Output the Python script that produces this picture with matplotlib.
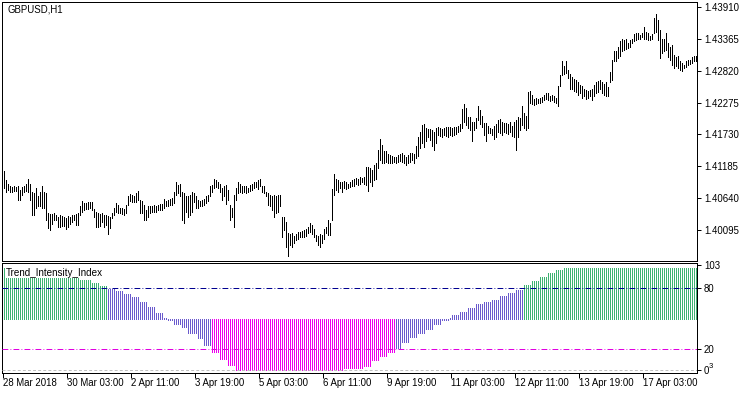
import numpy as np
import matplotlib
matplotlib.use("Agg")
import matplotlib.pyplot as plt

plt.rcParams['font.family'] = ['Liberation Sans', 'DejaVu Sans']
FS = 6.9

symbol = "GBPUSD,H1"
ind_name = "Trend_Intensity_Index"

# H1 bars, 28 Mar 2018 19:00 onwards
high = [
    1.4111, 1.4095, 1.4089, 1.4084, 1.4083, 1.4084, 1.4083, 1.4084, 1.4078, 1.4083,
    1.4085, 1.4089, 1.4096, 1.4089, 1.4075, 1.4072, 1.4081, 1.4067, 1.4075, 1.4085,
    1.4075, 1.4073, 1.4038, 1.4037, 1.4037, 1.4039, 1.4035, 1.4031, 1.4035, 1.4034,
    1.4031, 1.4030, 1.4034, 1.4031, 1.4035, 1.4035, 1.4037, 1.4038, 1.4051, 1.4060,
    1.4055, 1.4056, 1.4058, 1.4058, 1.4058, 1.4045, 1.4041, 1.4038, 1.4037, 1.4038,
    1.4035, 1.4035, 1.4034, 1.4031, 1.4039, 1.4047, 1.4055, 1.4052, 1.4047, 1.4047,
    1.4045, 1.4052, 1.4068, 1.4071, 1.4069, 1.4067, 1.4072, 1.4077, 1.4061, 1.4060,
    1.4052, 1.4044, 1.4050, 1.4051, 1.4051, 1.4052, 1.4051, 1.4052, 1.4054, 1.4054,
    1.4062, 1.4060, 1.4061, 1.4062, 1.4064, 1.4075, 1.4091, 1.4087, 1.4088, 1.4075,
    1.4072, 1.4067, 1.4067, 1.4069, 1.4075, 1.4072, 1.4067, 1.4061, 1.4060, 1.4061,
    1.4062, 1.4067, 1.4069, 1.4084, 1.4087, 1.4096, 1.4095, 1.4092, 1.4089, 1.4081,
    1.4084, 1.4087, 1.4078, 1.4052, 1.4048, 1.4069, 1.4081, 1.4091, 1.4088, 1.4085,
    1.4084, 1.4084, 1.4081, 1.4087, 1.4089, 1.4091, 1.4092, 1.4095, 1.4096, 1.4085,
    1.4084, 1.4075, 1.4072, 1.4069, 1.4068, 1.4069, 1.4067, 1.4069, 1.4069, 1.4031,
    1.4031, 1.4024, 1.4004, 1.4003, 1.4004, 1.3999, 1.4003, 1.4007, 1.4007, 1.4008,
    1.4010, 1.4011, 1.4014, 1.4021, 1.4018, 1.4012, 1.4001, 1.3999, 1.4003, 1.4001,
    1.4012, 1.4015, 1.4026, 1.4021, 1.4079, 1.4105, 1.4096, 1.4095, 1.4092, 1.4092,
    1.4094, 1.4091, 1.4089, 1.4092, 1.4095, 1.4096, 1.4098, 1.4096, 1.4100, 1.4098,
    1.4101, 1.4118, 1.4117, 1.4115, 1.4113, 1.4121, 1.4124, 1.4146, 1.4165, 1.4155,
    1.4145, 1.4144, 1.4140, 1.4138, 1.4136, 1.4135, 1.4135, 1.4138, 1.4140, 1.4142,
    1.4138, 1.4134, 1.4138, 1.4141, 1.4142, 1.4140, 1.4153, 1.4169, 1.4178, 1.4189,
    1.4191, 1.4184, 1.4182, 1.4182, 1.4180, 1.4178, 1.4184, 1.4186, 1.4184, 1.4182,
    1.4184, 1.4186, 1.4185, 1.4186, 1.4184, 1.4186, 1.4185, 1.4187, 1.4191, 1.4216,
    1.4225, 1.4218, 1.4203, 1.4202, 1.4195, 1.4195, 1.4201, 1.4222, 1.4214, 1.4205,
    1.4192, 1.4193, 1.4187, 1.4184, 1.4182, 1.4187, 1.4191, 1.4198, 1.4199, 1.4195,
    1.4192, 1.4193, 1.4191, 1.4195, 1.4187, 1.4195, 1.4197, 1.4203, 1.4201, 1.4221,
    1.4209, 1.4205, 1.4246, 1.4248, 1.4241, 1.4233, 1.4235, 1.4233, 1.4235, 1.4237,
    1.4241, 1.4244, 1.4243, 1.4239, 1.4241, 1.4238, 1.4235, 1.4256, 1.4275, 1.4298,
    1.4290, 1.4298, 1.4283, 1.4276, 1.4272, 1.4267, 1.4266, 1.4263, 1.4258, 1.4255,
    1.4250, 1.4249, 1.4248, 1.4249, 1.4250, 1.4258, 1.4263, 1.4265, 1.4266, 1.4263,
    1.4260, 1.4262, 1.4254, 1.4280, 1.4300, 1.4315, 1.4316, 1.4323, 1.4333, 1.4337,
    1.4335, 1.4336, 1.4330, 1.4335, 1.4337, 1.4345, 1.4346, 1.4346, 1.4343, 1.4347,
    1.4356, 1.4349, 1.4346, 1.4341, 1.4345, 1.4372, 1.4379, 1.4369, 1.4352, 1.4337,
    1.4336, 1.4346, 1.4329, 1.4323, 1.4326, 1.4309, 1.4306, 1.4307, 1.4298, 1.4295,
    1.4292, 1.4298, 1.4300, 1.4301, 1.4305, 1.4307, 1.4307,
]
low = [
    1.4081, 1.4075, 1.4078, 1.4075, 1.4075, 1.4077, 1.4077, 1.4061, 1.4061, 1.4069,
    1.4075, 1.4077, 1.4075, 1.4061, 1.4035, 1.4035, 1.4047, 1.4050, 1.4050, 1.4047,
    1.4048, 1.4027, 1.4013, 1.4010, 1.4020, 1.4027, 1.4026, 1.4015, 1.4015, 1.4016,
    1.4016, 1.4011, 1.4015, 1.4020, 1.4024, 1.4026, 1.4018, 1.4018, 1.4035, 1.4041,
    1.4044, 1.4045, 1.4045, 1.4047, 1.4044, 1.4032, 1.4015, 1.4015, 1.4016, 1.4024,
    1.4015, 1.4018, 1.4003, 1.4013, 1.4030, 1.4035, 1.4041, 1.4038, 1.4038, 1.4037,
    1.4035, 1.4038, 1.4052, 1.4060, 1.4058, 1.4058, 1.4058, 1.4061, 1.4038, 1.4038,
    1.4027, 1.4026, 1.4032, 1.4039, 1.4041, 1.4041, 1.4041, 1.4043, 1.4044, 1.4044,
    1.4047, 1.4051, 1.4051, 1.4052, 1.4052, 1.4055, 1.4069, 1.4072, 1.4067, 1.4027,
    1.4021, 1.4041, 1.4031, 1.4035, 1.4041, 1.4058, 1.4048, 1.4048, 1.4050, 1.4051,
    1.4052, 1.4055, 1.4060, 1.4067, 1.4075, 1.4081, 1.4083, 1.4081, 1.4075, 1.4061,
    1.4067, 1.4054, 1.4061, 1.4027, 1.4032, 1.4014, 1.4061, 1.4072, 1.4075, 1.4072,
    1.4075, 1.4072, 1.4075, 1.4077, 1.4078, 1.4081, 1.4083, 1.4079, 1.4085, 1.4075,
    1.4072, 1.4067, 1.4052, 1.4051, 1.4044, 1.4031, 1.4039, 1.4041, 1.4050, 1.3998,
    1.4010, 1.3981, 1.3965, 1.3984, 1.3981, 1.3987, 1.3992, 1.3995, 1.3997, 1.3998,
    1.3998, 1.3999, 1.4004, 1.4007, 1.4003, 1.3997, 1.3990, 1.3984, 1.3981, 1.3987,
    1.3994, 1.4004, 1.4001, 1.4001, 1.4027, 1.4069, 1.4078, 1.4075, 1.4081, 1.4075,
    1.4081, 1.4079, 1.4081, 1.4083, 1.4084, 1.4085, 1.4089, 1.4087, 1.4089, 1.4091,
    1.4089, 1.4087, 1.4077, 1.4092, 1.4085, 1.4095, 1.4096, 1.4115, 1.4129, 1.4124,
    1.4124, 1.4126, 1.4124, 1.4125, 1.4125, 1.4126, 1.4125, 1.4126, 1.4128, 1.4126,
    1.4125, 1.4121, 1.4124, 1.4126, 1.4129, 1.4124, 1.4132, 1.4136, 1.4149, 1.4158,
    1.4152, 1.4161, 1.4169, 1.4164, 1.4153, 1.4146, 1.4158, 1.4172, 1.4170, 1.4169,
    1.4172, 1.4170, 1.4169, 1.4172, 1.4170, 1.4172, 1.4174, 1.4178, 1.4179, 1.4184,
    1.4195, 1.4189, 1.4184, 1.4181, 1.4162, 1.4181, 1.4184, 1.4198, 1.4191, 1.4186,
    1.4172, 1.4162, 1.4175, 1.4176, 1.4172, 1.4166, 1.4169, 1.4178, 1.4175, 1.4172,
    1.4178, 1.4175, 1.4174, 1.4178, 1.4170, 1.4169, 1.4146, 1.4169, 1.4181, 1.4189,
    1.4184, 1.4181, 1.4184, 1.4226, 1.4225, 1.4223, 1.4225, 1.4226, 1.4227, 1.4229,
    1.4232, 1.4233, 1.4232, 1.4231, 1.4232, 1.4229, 1.4226, 1.4221, 1.4256, 1.4275,
    1.4276, 1.4278, 1.4269, 1.4250, 1.4250, 1.4248, 1.4246, 1.4241, 1.4243, 1.4235,
    1.4238, 1.4233, 1.4235, 1.4238, 1.4232, 1.4239, 1.4243, 1.4246, 1.4250, 1.4244,
    1.4241, 1.4238, 1.4238, 1.4263, 1.4266, 1.4298, 1.4299, 1.4303, 1.4307, 1.4315,
    1.4317, 1.4319, 1.4320, 1.4323, 1.4329, 1.4332, 1.4335, 1.4337, 1.4336, 1.4339,
    1.4337, 1.4336, 1.4335, 1.4335, 1.4337, 1.4346, 1.4349, 1.4335, 1.4303, 1.4312,
    1.4315, 1.4317, 1.4306, 1.4300, 1.4292, 1.4286, 1.4290, 1.4286, 1.4283, 1.4282,
    1.4286, 1.4289, 1.4292, 1.4294, 1.4295, 1.4298, 1.4299,
]

# TII is a step line: value and number of bars it holds
tii_value = [100, 97, 94, 91, 88, 85, 82, 79, 77, 74, 71, 66, 62, 56, 51, 49, 45, 42, 36, 31,
             24, 17, 10, 5, 0, 2, 4, 9, 13, 17, 21, 27, 32, 36, 40, 45, 49, 51, 54, 57,
             61, 64, 66, 68, 72, 75, 78, 83, 87, 91, 95, 98, 100]
tii_count = [12, 8, 10, 8, 6, 4, 4, 4, 4, 4, 4, 4, 4, 4, 2, 3, 4, 3, 5, 3,
             4, 4, 4, 4, 54, 10, 4, 4, 4, 4, 3, 4, 4, 4, 4, 4, 4, 1, 4, 4,
             4, 4, 4, 4, 4, 4, 4, 4, 4, 4, 4, 4, 67]
tii = np.repeat(tii_value, tii_count)

levels = [80, 20, 0]

price_ticks = [1.40095, 1.40640, 1.41185, 1.41730, 1.42275, 1.42820, 1.43365, 1.43910]
ind_ticks = [0, 20, 80, 103]

time_idx = [0, 32, 64, 96, 128, 160, 192, 224, 256, 288, 320]
time_labels = ["28 Mar 2018", "30 Mar 03:00", "2 Apr 11:00", "3 Apr 19:00", "5 Apr 03:00",
               "6 Apr 11:00", "9 Apr 19:00", "11 Apr 03:00", "12 Apr 11:00", "13 Apr 19:00",
               "17 Apr 03:00"]

W, H = 750, 394
px = 0.72  # one pixel in points at dpi 100
fig = plt.figure(figsize=(W / 100, H / 100), dpi=100)
ax1 = fig.add_axes([2 / W, 133 / H, 695 / W, 259 / H])
ax2 = fig.add_axes([2 / W, 21.3 / H, 695 / W, 109.4 / H])

x = np.arange(len(high))

ax1.vlines(x, low, high, colors='black', linewidth=px, antialiased=False)
ax1.set_xlim(-1, 346.5)
ax1.set_ylim(1.395657, 1.439946)
ax1.set_xticks([])
ax1.yaxis.tick_right()
ax1.set_yticks(price_ticks)
ax1.set_yticklabels([f"{p:.5f}" for p in price_ticks])
ax1.text(5 / 695, 1 - 2.5 / 259, symbol, transform=ax1.transAxes, fontsize=FS,
         va='top', ha='left')

col = np.where(tii > 80, '#3cb371', np.where(tii < 20, '#ee00ee', '#6a5acd'))
ax2.vlines(x, 50, tii, colors=col, linewidth=px, antialiased=False, zorder=2)
ax2.axhline(levels[0], color='#000090', lw=px, ls=(0, (5.8, 2.2, 0.8, 2.2)), zorder=3)
ax2.axhline(levels[1], color='#e000e0', lw=px, ls=(0, (5.8, 2.2, 0.8, 2.2)), zorder=3)
ax2.axhline(levels[2], color='#c0c0c0', lw=px, ls=(0, (2.9, 2.2)), zorder=3)
ax2.set_xlim(-1, 346.5)
ax2.set_ylim(-3.05, 104.5)
ax2.yaxis.tick_right()
ax2.set_yticks(ind_ticks)
ax2.set_yticklabels([str(v) for v in ind_ticks])
ax2.set_xticks([i - 0.5 for i in time_idx])
ax2.set_xticklabels(time_labels)
for t in ax2.get_xticklabels():
    t.set_ha('left')
ax2.text(4 / 695, 1 - 4.5 / 109.4, ind_name, transform=ax2.transAxes, fontsize=FS + 0.2,
         va='top', ha='left', zorder=5,
         bbox=dict(facecolor='white', edgecolor='none', pad=0.3))
# bottom "-3" scale label, squeezed beside the 0 label
ax2.text(1 + 12 / 695, 3.5, "3", transform=ax2.get_yaxis_transform(), fontsize=FS - 1.4,
         va='center', ha='left')

for ax in (ax1, ax2):
    for s in ax.spines.values():
        s.set_linewidth(px)
        s.set_color('black')
    ax.tick_params(axis='y', direction='out', length=4 * px, width=px, pad=3 * px,
                   labelsize=FS, colors='black')
    ax.tick_params(axis='x', direction='out', length=5 * px, width=px, pad=0.5,
                   labelsize=FS, colors='black')

fig.savefig('out.png', dpi=100)
